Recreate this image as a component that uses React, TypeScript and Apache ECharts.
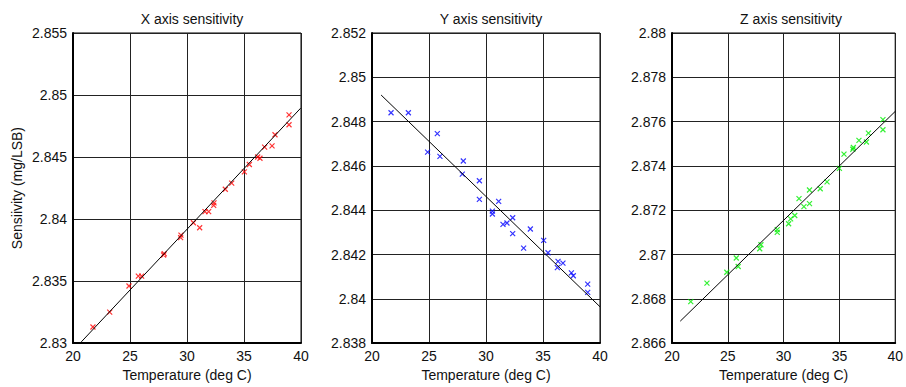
import React, { useEffect, useRef } from "react";
import * as echarts from "echarts";

const titles = ["X axis sensitivity", "Y axis sensitivity", "Z axis sensitivity"];
const xAxisName = "Temperature (deg C)";
const yAxisName = "Sensiivity (mg/LSB)";
const xTicks = [20, 25, 30, 35, 40];

const yMinX = 2.83, yMaxX = 2.855, yStepX = 0.005;
const yMinY = 2.838, yMaxY = 2.852, yStepY = 0.002;
const yMinZ = 2.866, yMaxZ = 2.88, yStepZ = 0.002;

const tempX = [21.75, 23.22, 24.91, 25.73, 26.02, 27.95, 28.0, 29.44, 29.47, 30.56, 31.11, 31.58, 31.9, 32.34, 32.37, 33.36, 33.92, 35.03, 35.47, 36.2, 36.4, 36.81, 37.46, 37.72, 38.95, 38.95];
const sensX = [2.8313, 2.8325, 2.8346, 2.8354, 2.8354, 2.8371, 2.8372, 2.8385, 2.8387, 2.8397, 2.8393, 2.8406, 2.8406, 2.8411, 2.8413, 2.8424, 2.8429, 2.8438, 2.8444, 2.8450, 2.8449, 2.8458, 2.8459, 2.8468, 2.8476, 2.8484];
const fitTempX = [20.73, 39.97];
const fitSensX = [2.8301, 2.84894];

const tempY = [21.67, 23.19, 25.73, 24.88, 25.96, 28.01, 27.92, 29.42, 29.42, 31.11, 30.56, 30.56, 32.34, 31.49, 31.84, 32.34, 33.89, 33.3, 35.06, 35.44, 36.32, 36.75, 36.26, 37.49, 37.66, 38.92, 38.92];
const sensY = [2.8484, 2.8484, 2.84746, 2.84662, 2.84643, 2.84622, 2.84563, 2.84533, 2.84449, 2.8444, 2.84396, 2.84383, 2.84366, 2.84336, 2.84342, 2.84294, 2.84315, 2.84229, 2.84264, 2.84208, 2.84169, 2.84161, 2.84141, 2.84117, 2.84104, 2.84066, 2.84029];
const fitTempY = [20.8, 40.0];
const fitSensY = [2.8492, 2.83964];

const tempZ = [21.68, 23.13, 24.91, 25.76, 25.93, 27.97, 27.86, 29.43, 29.43, 30.45, 30.63, 31.0, 31.38, 31.82, 32.32, 32.32, 33.28, 33.89, 35.0, 35.41, 36.2, 36.25, 36.75, 37.42, 37.6, 38.9, 38.9];
const sensZ = [2.86787, 2.86871, 2.8692, 2.86984, 2.86946, 2.87044, 2.87026, 2.87112, 2.871, 2.87139, 2.87161, 2.87176, 2.87252, 2.87216, 2.8723, 2.87291, 2.87297, 2.87328, 2.87389, 2.87453, 2.87475, 2.87483, 2.87515, 2.87508, 2.87548, 2.87609, 2.87563];
const fitTempZ = [20.74, 40.04];
const fitSensZ = [2.86699, 2.87648];

const FONT = "Liberation Sans, Arial, sans-serif";
const CROSS = "path://M0,0L10,10M10,0L0,10";

export default function App() {
  const ref = useRef<HTMLDivElement>(null);
  useEffect(() => {
    document.body.style.margin = "0";
    if (!ref.current) return;
    const chart = echarts.init(ref.current, null, { renderer: "svg" });

    const panels = [
      { left: 73, t: tempX, s: sensX, ft: fitTempX, fs: fitSensX, min: yMinX, max: yMaxX, step: yStepX, color: "#ff0000" },
      { left: 372, t: tempY, s: sensY, ft: fitTempY, fs: fitSensY, min: yMinY, max: yMaxY, step: yStepY, color: "#0000ff" },
      { left: 672, t: tempZ, s: sensZ, ft: fitTempZ, fs: fitSensZ, min: yMinZ, max: yMaxZ, step: yStepZ, color: "#00ee00" },
    ];
    const W = 228, H = 311, TOP = 33;
    const textStyle = { fontFamily: FONT, fontSize: 14, color: "#111" };

    const option: any = {
      animation: false,
      backgroundColor: "#fff",
      title: panels.map((p, i) => ({
        text: titles[i],
        left: p.left + W / 2,
        top: 7,
        textAlign: "center",
        textStyle: { ...textStyle, fontWeight: "normal" },
      })),
      grid: panels.map((p) => ({
        left: p.left,
        top: TOP,
        width: W,
        height: H,
        show: true,
        borderColor: "#000",
        borderWidth: 1,
        backgroundColor: "transparent",
      })),
      xAxis: panels.map((p, i) => ({
        type: "value",
        gridIndex: i,
        min: xTicks[0],
        max: xTicks[xTicks.length - 1],
        interval: xTicks[1] - xTicks[0],
        name: xAxisName,
        nameLocation: "middle",
        nameGap: 24,
        nameTextStyle: textStyle,
        axisLine: { show: true, lineStyle: { color: "#000", width: 2 } },
        axisTick: { show: false },
        axisLabel: { ...textStyle, margin: 6 },
        splitLine: { show: true, lineStyle: { color: "#222", width: 1 } },
      })),
      yAxis: panels.map((p, i) => ({
        type: "value",
        gridIndex: i,
        min: p.min,
        max: p.max,
        interval: p.step,
        name: i === 0 ? yAxisName : "",
        nameLocation: "middle",
        nameGap: 49,
        nameTextStyle: textStyle,
        axisLine: { show: true, lineStyle: { color: "#000", width: 2 } },
        axisTick: { show: false },
        axisLabel: {
          ...textStyle,
          margin: 6,
          formatter: (v: number) => String(parseFloat(v.toFixed(4))),
        },
        splitLine: { show: true, lineStyle: { color: "#222", width: 1 } },
      })),
      series: panels.flatMap((p, i) => [
        {
          type: "scatter",
          xAxisIndex: i,
          yAxisIndex: i,
          symbol: CROSS,
          symbolSize: 5,
          itemStyle: { color: "none", borderColor: p.color, borderWidth: 1.2 },
          data: p.t.map((t, k) => [t, p.s[k]]),
          z: 3,
        },
        {
          type: "line",
          xAxisIndex: i,
          yAxisIndex: i,
          showSymbol: false,
          symbol: "none",
          lineStyle: { color: "#000", width: 1 },
          data: p.ft.map((t, k) => [t, p.fs[k]]),
          z: 4,
        },
      ]),
    };
    chart.setOption(option);
    return () => chart.dispose();
  }, []);
  return <div ref={ref} style={{ width: 906, height: 387 }} />;
}
